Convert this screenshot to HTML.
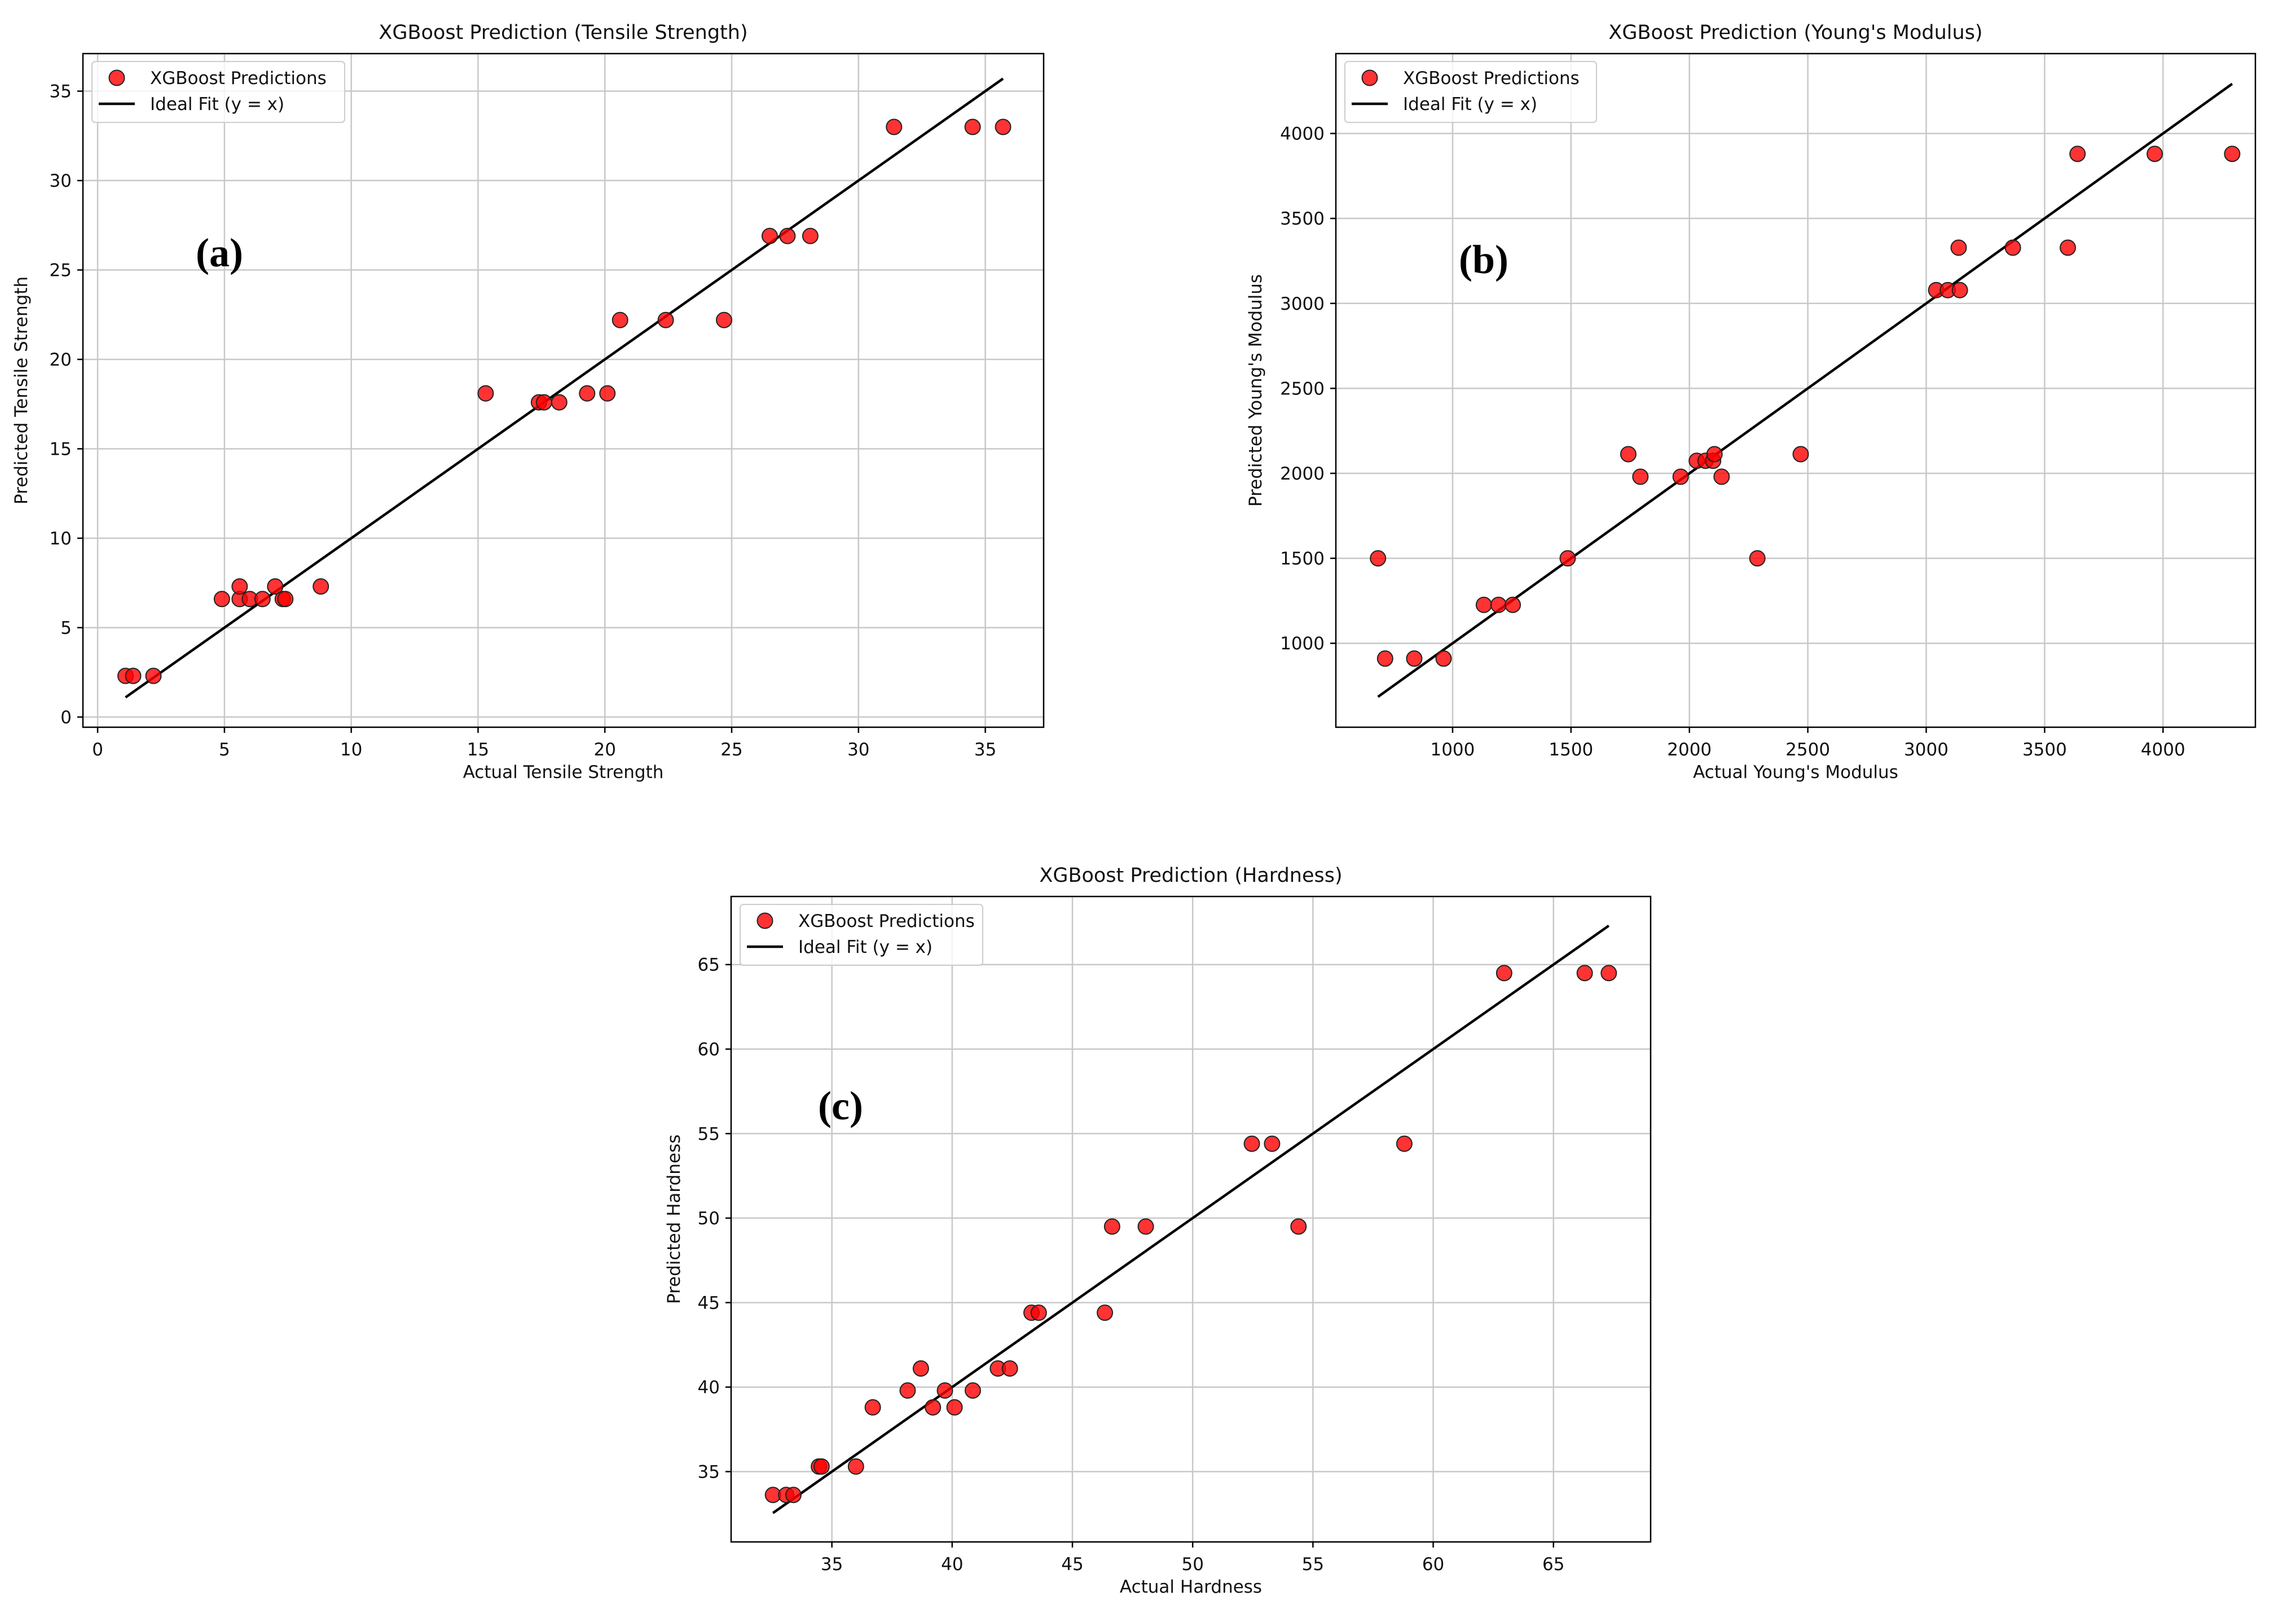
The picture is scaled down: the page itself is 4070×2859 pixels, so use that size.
<!DOCTYPE html>
<html><head><meta charset="utf-8"><style>
html,body{margin:0;padding:0;background:#fff;}
svg{display:block;font-family:"DejaVu Sans","Liberation Sans",sans-serif;}
</style></head><body>
<svg id="fig" width="4070" height="2859" viewBox="0 0 4070 2859" xmlns="http://www.w3.org/2000/svg">
<rect width="4070" height="2859" fill="#fff"/>
</svg>
<script>
const tsActual=[1.1,1.4,2.2,4.9,5.6,5.6,6.0,6.5,7.0,7.3,7.4,8.8,15.3,17.4,17.6,18.2,19.3,20.1,20.6,22.4,24.7,26.5,27.2,28.1,31.4,34.5,35.7];
const tsPred=[2.3,2.3,2.3,6.6,6.6,7.3,6.6,6.6,7.3,6.6,6.6,7.3,18.1,17.6,17.6,17.6,18.1,18.1,22.2,22.2,22.2,26.9,26.9,26.9,33.0,33.0,33.0];
const tsTicks=[0,5,10,15,20,25,30,35];
const ymActual=[685,715,838,962,1132,1194,1254,1486,1742,1793,1963,2031,2068,2100,2106,2136,2287,2470,3042,3091,3142,3137,3366,3598,3639,3965,4292];
const ymPred=[1500,910,910,910,1226,1226,1226,1500,2113,1980,1980,2074,2074,2074,2113,1980,1500,2113,3078,3078,3078,3328,3328,3328,3880,3880,3880];
const ymXTicks=[1000,1500,2000,2500,3000,3500,4000];
const ymYTicks=[1000,1500,2000,2500,3000,3500,4000];
const hdActual=[32.55,33.1,33.4,34.46,34.57,36.0,36.7,38.15,38.7,39.2,39.7,40.1,40.86,41.9,42.4,43.3,43.6,46.35,46.65,48.05,54.4,52.46,53.3,58.8,62.95,66.3,67.3];
const hdPred=[33.62,33.62,33.62,35.3,35.3,35.3,38.8,39.8,41.1,38.8,39.8,38.8,39.8,41.1,41.1,44.4,44.4,44.4,49.5,49.5,49.5,54.4,54.4,54.4,64.5,64.5,64.5];
const hdTicks=[35,40,45,50,55,60,65];

const NS="http://www.w3.org/2000/svg";
const svg=document.getElementById('fig');
function mk(tag,attrs,parent,text){const e=document.createElementNS(NS,tag);for(const k in attrs)e.setAttribute(k,attrs[k]);if(text!==undefined)e.textContent=text;(parent||svg).appendChild(e);return e;}

function panel(o){
  const g=mk('g',{});
  
  
  const sx=v=>o.L+(v-o.xd[0])/(o.xd[1]-o.xd[0])*(o.R-o.L);
  const sy=v=>o.B-(v-o.yd[0])/(o.yd[1]-o.yd[0])*(o.B-o.T);
  o.xt.forEach(t=>{const l=mk('line',{x1:sx(t),x2:sx(t),y1:o.T,y2:o.B,stroke:'#c8c8c8','stroke-width':2.5},g);
    });
  o.yt.forEach(t=>{const l=mk('line',{x1:o.L,x2:o.R,y1:sy(t),y2:sy(t),stroke:'#c8c8c8','stroke-width':2.5},g);
    });
  const lo=Math.min(...o.ax),hi=Math.max(...o.ax);
  const il=mk('line',{x1:sx(lo),y1:sy(lo),x2:sx(hi),y2:sy(hi),stroke:'#000','stroke-width':4.5},g);
  
  o.ax.forEach((a,i)=>{const c=mk('circle',{cx:sx(a),cy:sy(o.pr[i]),r:13.5,fill:'rgba(255,0,0,0.8)',stroke:'#222','stroke-width':2},g);
    });
  const f=mk('rect',{x:o.L,y:o.T,width:o.R-o.L,height:o.B-o.T,fill:'none',stroke:'#000','stroke-width':2.5},g);
  
  o.xt.forEach(t=>{mk('line',{x1:sx(t),x2:sx(t),y1:o.B,y2:o.B+10,stroke:'#000','stroke-width':2.5},g);
    const tx=mk('text',{x:sx(t),y:o.B+50,'font-size':31,'text-anchor':'middle',fill:'#111'},g,String(t));
    });
  o.yt.forEach(t=>{mk('line',{x1:o.L-10,x2:o.L,y1:sy(t),y2:sy(t),stroke:'#000','stroke-width':2.5},g);
    const tx=mk('text',{x:o.L-20,y:sy(t)+11,'font-size':31,'text-anchor':'end',fill:'#111'},g,String(t));
    });
  const ti=mk('text',{x:(o.L+o.R)/2,y:o.T-26,'font-size':35,'text-anchor':'middle',fill:'#111'},g,o.title);
  
  const xl=mk('text',{x:(o.L+o.R)/2,y:o.B+90,'font-size':31,'text-anchor':'middle',fill:'#111'},g,o.xlabel);
  
  const yx=o.ylx,yy=(o.T+o.B)/2;
  const yl=mk('text',{x:yx,y:yy,'font-size':31,'text-anchor':'middle',fill:'#111',transform:`rotate(-90 ${yx} ${yy})`},g,o.ylabel);
  
  const lg=mk('g',{},g);
  
  const lx=o.L+16,ly=o.T+14;
  mk('rect',{x:lx,y:ly,width:o.legW,height:108,rx:6,fill:'#fff','fill-opacity':0.8,stroke:'#ccc','stroke-width':2},lg);
  const lm=mk('circle',{cx:lx+44,cy:ly+29,r:13.5,fill:'rgba(255,0,0,0.8)',stroke:'#222','stroke-width':2},lg);
  
  mk('line',{x1:lx+12,x2:lx+76,y1:ly+75,y2:ly+75,stroke:'#000','stroke-width':4.5},lg);
  const t1=mk('text',{x:lx+103,y:ly+40,'font-size':31,fill:'#111'},lg,'XGBoost Predictions');
  
  const t2=mk('text',{x:lx+103,y:ly+86,'font-size':31,fill:'#111'},lg,'Ideal Fit (y = x)');
  
  const pl=mk('text',{x:o.plx,y:o.ply,'font-size':72,'font-weight':'bold','text-anchor':'middle','font-family':'"Liberation Serif",serif',fill:'#000'},g,o.pl);
  
}

panel({id:'tensile',L:147,R:1850,T:95,B:1289,xd:[-0.58,37.3],yd:[-0.57,37.1],xt:tsTicks,yt:tsTicks,ax:tsActual,pr:tsPred,
  title:'XGBoost Prediction (Tensile Strength)',xlabel:'Actual Tensile Strength',ylabel:'Predicted Tensile Strength',ylx:48,legW:448,pl:'(a)',plx:389,ply:472});
panel({id:'youngs',L:2368,R:3998,T:95,B:1289,xd:[507,4390],yd:[506,4470],xt:ymXTicks,yt:ymYTicks,ax:ymActual,pr:ymPred,
  title:"XGBoost Prediction (Young's Modulus)",xlabel:"Actual Young's Modulus",ylabel:"Predicted Young's Modulus",ylx:2236,legW:446,pl:'(b)',plx:2630,ply:484});
panel({id:'hardness',L:1296,R:2926,T:1589,B:2733,xd:[30.81,69.04],yd:[30.84,69.03],xt:hdTicks,yt:hdTicks,ax:hdActual,pr:hdPred,
  title:'XGBoost Prediction (Hardness)',xlabel:'Actual Hardness',ylabel:'Predicted Hardness',ylx:1205,legW:430,pl:'(c)',plx:1490,ply:1984});
</script>
</body></html>
